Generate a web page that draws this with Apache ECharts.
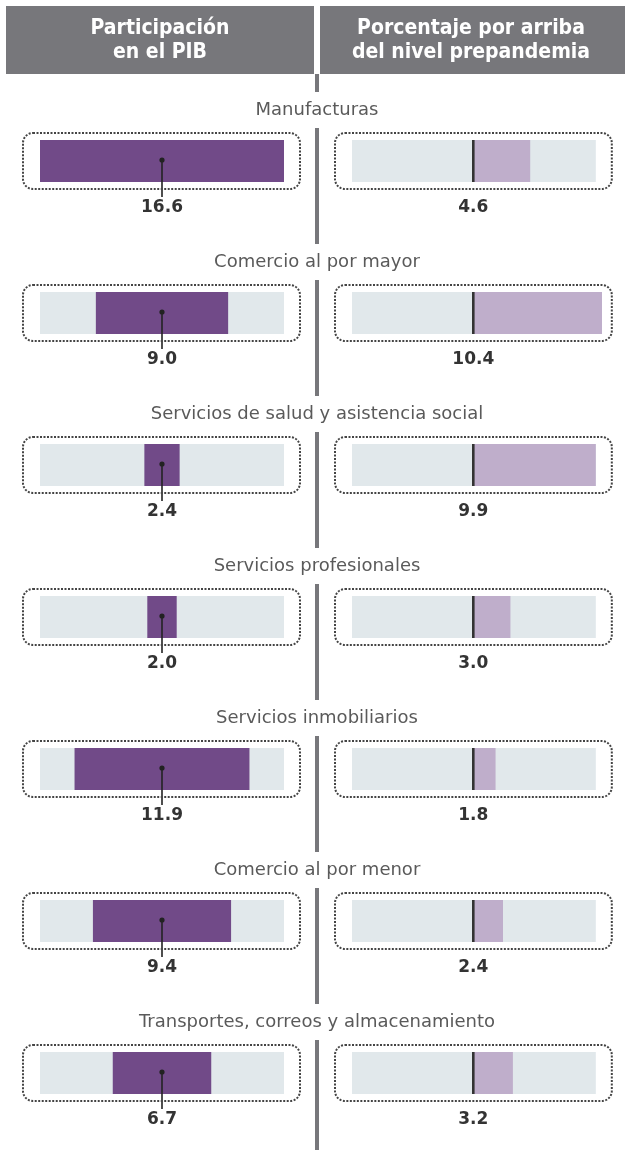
<!DOCTYPE html>
<html>
<head>
<meta charset="utf-8">
<script src="https://cdn.jsdelivr.net/npm/echarts@6/dist/echarts.min.js"></script>
<style>
  html, body { margin: 0; padding: 0; background: #fff; }
  #chart { width: 625px; height: 1150px; }
</style>
</head>
<body>
<div id="chart"></div>
<script>
// datos
var categorias = [
  "Manufacturas",
  "Comercio al por mayor",
  "Servicios de salud y asistencia social",
  "Servicios profesionales",
  "Servicios inmobiliarios",
  "Comercio al por menor",
  "Transportes, correos y almacenamiento"
]
var participacionPIB = [16.6, 9.0, 2.4, 2.0, 11.9, 9.4, 6.7]
var sobrePrepandemia = [4.6, 10.4, 9.9, 3.0, 1.8, 2.4, 3.2]
var titulos = ["Participación\nen el PIB", "Porcentaje por arriba\ndel nivel prepandemia"]

// escalas
var izqMedio = 8.3        // mitad del máximo (16.6)
var derMin = -9.8
var derFondoMax = 9.9
var derMax = 10.4

var MID_X = 317
var morado = "#714a88"
var moradoClaro = "#bfaecb"
var fondo = "#e1e8eb"
var gris = "#77777b"
var fuenteTitulo = "'DejaVu Sans Condensed', sans-serif"
var fuenteCat = "'DejaVu Sans', sans-serif"
var fuenteValor = "'DejaVu Sans', sans-serif"

var chart = echarts.init(document.getElementById("chart"))

// caja punteada alrededor del fondo
function caja(x0, x1, cy) {
  return {
    type: "rect",
    shape: { x: x0 - 17, y: cy - 28, width: x1 - x0 + 33, height: 56, r: 10 },
    style: { fill: null, stroke: "#444", lineWidth: 2, lineDash: [2, 1.5] },
    z2: 5
  }
}

var option = {
  animation: false,
  backgroundColor: "#fff",
  graphic: [
    { type: "rect", z: -10, shape: { x: 315, y: 74, width: 4, height: 1076 }, style: { fill: gris } },
    { type: "rect", shape: { x: 6, y: 6, width: 308, height: 68 }, style: { fill: gris } },
    { type: "rect", shape: { x: 320, y: 6, width: 305, height: 68 }, style: { fill: gris } },
    {
      type: "text", x: 160, y: 41,
      style: { text: titulos[0], fill: "#fff", font: "bold 21px " + fuenteTitulo, align: "center", verticalAlign: "middle", lineHeight: 24 }
    },
    {
      type: "text", x: 471, y: 41,
      style: { text: titulos[1], fill: "#fff", font: "bold 21px " + fuenteTitulo, align: "center", verticalAlign: "middle", lineHeight: 24 }
    }
  ],
  grid: [
    { left: 40, width: 244, top: 85, height: 1064 },
    { left: 352, width: 250, top: 85, height: 1064 }
  ],
  xAxis: [
    { gridIndex: 0, type: "value", min: -izqMedio, max: izqMedio, show: false },
    { gridIndex: 1, type: "value", min: derMin, max: derMax, show: false }
  ],
  yAxis: [
    { gridIndex: 0, type: "category", data: categorias, inverse: true, show: false },
    { gridIndex: 1, type: "category", data: categorias, inverse: true, show: false }
  ],
  series: [
    // izquierda: fondo
    { type: "bar", xAxisIndex: 0, yAxisIndex: 0, stack: "fondoI", barWidth: 42, itemStyle: { color: fondo },
      data: categorias.map(function () { return izqMedio }) },
    { type: "bar", xAxisIndex: 0, yAxisIndex: 0, stack: "fondoI", barWidth: 42, itemStyle: { color: fondo },
      data: categorias.map(function () { return -izqMedio }) },
    // izquierda: barra centrada
    { type: "bar", xAxisIndex: 0, yAxisIndex: 0, stack: "valI", barWidth: 42, barGap: "-100%", itemStyle: { color: morado },
      data: participacionPIB.map(function (v) { return v / 2 }) },
    { type: "bar", xAxisIndex: 0, yAxisIndex: 0, stack: "valI", barWidth: 42, barGap: "-100%", itemStyle: { color: morado },
      data: participacionPIB.map(function (v) { return -v / 2 }) },
    // derecha: fondo
    { type: "bar", xAxisIndex: 1, yAxisIndex: 1, stack: "fondoD", barWidth: 42, itemStyle: { color: fondo },
      data: categorias.map(function () { return derFondoMax }) },
    { type: "bar", xAxisIndex: 1, yAxisIndex: 1, stack: "fondoD", barWidth: 42, itemStyle: { color: fondo },
      data: categorias.map(function () { return derMin }) },
    // derecha: barra
    { type: "bar", xAxisIndex: 1, yAxisIndex: 1, barWidth: 42, barGap: "-100%", itemStyle: { color: moradoClaro },
      data: sobrePrepandemia },
    // izquierda: caja, marcador y etiqueta; títulos de categoría
    {
      type: "custom", xAxisIndex: 0, yAxisIndex: 0, z: 5,
      data: participacionPIB.map(function (v, i) { return [0, i, v] }),
      renderItem: function (params, api) {
        var i = api.value(1)
        var c = api.coord([0, i])
        var a = api.coord([-izqMedio, i])
        var b = api.coord([izqMedio, i])
        return {
          type: "group",
          children: [
            caja(a[0], b[0], c[1]),
            { type: "line", shape: { x1: c[0], y1: c[1] - 1, x2: c[0], y2: c[1] + 36 }, style: { stroke: "#222", lineWidth: 1.6 } },
            { type: "circle", shape: { cx: c[0], cy: c[1] - 1, r: 2.6 }, style: { fill: "#222" } },
            { type: "text", x: c[0], y: c[1] + 47,
              style: { text: api.value(2).toFixed(1), font: "bold 17px " + fuenteValor, fill: "#333", align: "center", verticalAlign: "middle" } },
            { type: "text", x: MID_X, y: c[1] - 51,
              style: { text: categorias[i], font: "18px " + fuenteCat, fill: "#5a5a5a", align: "center", verticalAlign: "middle",
                backgroundColor: "#fff", padding: [9, 0], lineHeight: 18 } }
          ]
        }
      }
    },
    // derecha: caja, línea de cero y etiqueta
    {
      type: "custom", xAxisIndex: 1, yAxisIndex: 1, z: 5,
      data: sobrePrepandemia.map(function (v, i) { return [0, i, v] }),
      renderItem: function (params, api) {
        var i = api.value(1)
        var c = api.coord([0, i])
        var a = api.coord([derMin, i])
        var b = api.coord([derFondoMax, i])
        return {
          type: "group",
          children: [
            caja(a[0], b[0], c[1]),
            { type: "line", shape: { x1: c[0], y1: c[1] - 21, x2: c[0], y2: c[1] + 21 }, style: { stroke: "#333", lineWidth: 2.6 } },
            { type: "text", x: c[0], y: c[1] + 47,
              style: { text: api.value(2).toFixed(1), font: "bold 17px " + fuenteValor, fill: "#333", align: "center", verticalAlign: "middle" } }
          ]
        }
      }
    }
  ]
}

chart.setOption(option)
</script>
</body>
</html>
